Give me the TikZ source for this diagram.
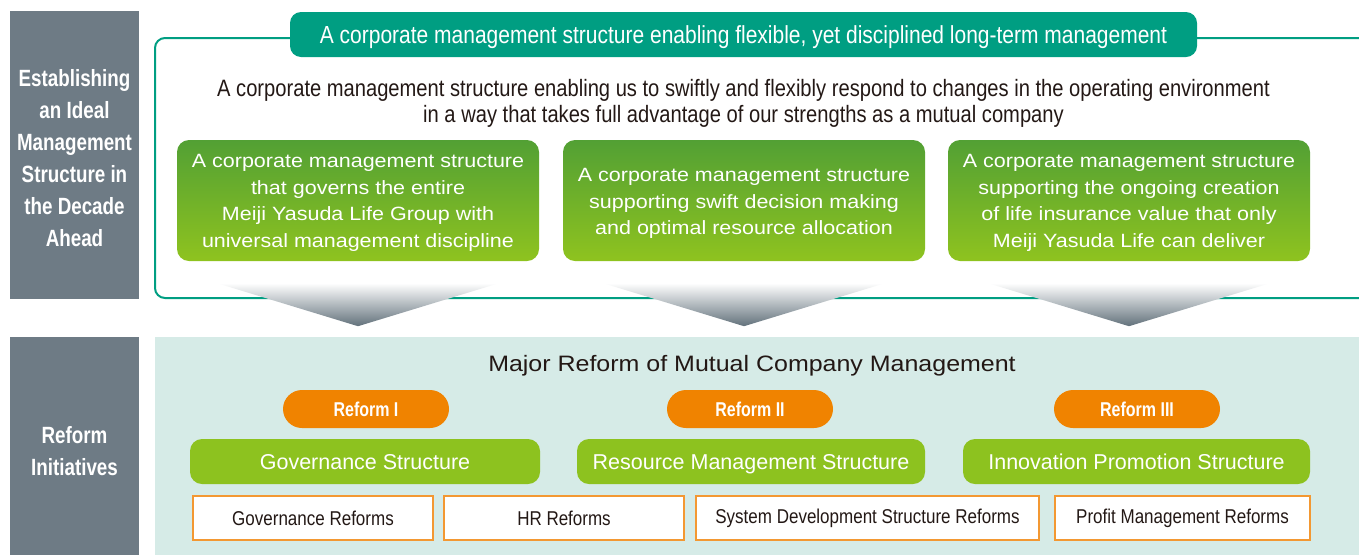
\documentclass[tikz,border=0pt]{standalone}
\usepackage{fontspec}
\setmainfont{Liberation Sans}
\newfontfamily\narrowsans[FakeStretch=0.85]{Liberation Sans}
\newfontfamily\narrowbold[FakeStretch=0.8]{Liberation Sans Bold}
\newfontfamily\widesans[FakeStretch=1.12]{Liberation Sans}
\usetikzlibrary{positioning,calc}

\definecolor{sidegray}{RGB}{110,123,133}
\definecolor{mainteal}{RGB}{0,158,130}
\definecolor{leafdark}{RGB}{82,160,52}
\definecolor{leaflight}{RGB}{143,195,31}
\definecolor{leafgreen}{RGB}{141,194,31}
\definecolor{paleteal}{RGB}{214,235,231}
\definecolor{reformorange}{RGB}{240,131,0}
\definecolor{edgeorange}{RGB}{243,152,50}
\definecolor{inkblack}{RGB}{35,24,21}
\definecolor{arrowgray}{RGB}{98,113,123}

\begin{document}
\begin{tikzpicture}[x=1pt, y=-1pt,
    sidebox/.style={fill=sidegray, inner sep=0pt, minimum width=129pt},
    sidetext/.style={text=white, align=center, font=\narrowbold\fontsize{23.5}{32}\selectfont},
    titlepill/.style={fill=mainteal, text=white, rounded corners=11pt, text depth=0pt,
      minimum width=907pt, minimum height=45pt, font=\narrowsans\fontsize{24.7}{28}\selectfont},
    aimbox/.style={top color=leafdark, bottom color=leaflight, rounded corners=12pt,
      minimum width=362pt, minimum height=121pt},
    aimtext/.style={text=white, align=center, font=\widesans\fontsize{19.2}{26.5}\selectfont},
    reformpill/.style={fill=reformorange, text=white, rounded corners=19pt, text depth=0pt,
      minimum width=166pt, minimum height=38pt, font=\narrowbold\fontsize{20}{22}\selectfont},
    structbar/.style={fill=leafgreen, text=white, rounded corners=12pt, text depth=0pt,
      minimum height=45pt, font=\fontsize{21.5}{24}\selectfont},
    itembox/.style={fill=white, draw=edgeorange, line width=1.5pt, text=inkblack,
      minimum height=44pt, font=\narrowsans\fontsize{20}{24}\selectfont}]
  \useasboundingbox (0,0) rectangle (1359,555);

  % side labels
  \node (sideup) [sidebox, minimum height=288pt] at (74.5,155) {};
  \node (sideuptext) [sidetext] at ([yshift=-3pt]sideup.center)
    {Establishing\\an Ideal\\Management\\Structure in\\the Decade\\Ahead};
  \node (sidelow) [sidebox, minimum height=218pt] at (74.5,446) {};
  \node (sidelowtext) [sidetext] at ([yshift=-5.5pt]sidelow.center) {Reform\\Initiatives};

  % upper frame, open to the right
  \draw[mainteal, line width=2pt, rounded corners=10pt]
    (1359,38) -- (155,38) -- (155,298) -- (1359,298);
  \node (title) [titlepill] at (743.5,34.5)
    {A corporate management structure enabling flexible, yet disciplined long-term management};
  \node (lead) [align=center, text=inkblack, text depth=-1pt,
      font=\narrowsans\fontsize{23.7}{26}\selectfont] at (743.5,101)
    {A corporate management structure enabling us to swiftly and flexibly respond to changes in the operating environment\\
     in a way that takes full advantage of our strengths as a mutual company};

  \node (aim1) [aimbox] at (358,200.5) {};
  \node (aim2) [aimbox] at (744,200.5) {};
  \node (aim3) [aimbox] at (1129,200.5) {};
  \node (aim1text) [aimtext] at ([yshift=-2.5pt]aim1.center)
    {A corporate management structure\\that governs the entire\\Meiji Yasuda Life Group with\\universal management discipline};
  \node (aim2text) [aimtext] at ([yshift=-3pt]aim2.center)
    {A corporate management structure\\supporting swift decision making\\and optimal resource allocation};
  \node (aim3text) [aimtext] at ([yshift=-2.5pt]aim3.center)
    {A corporate management structure\\supporting the ongoing creation\\of life insurance value that only\\Meiji Yasuda Life can deliver};

  % arrows down to the reforms
  \foreach \a in {aim1,aim2,aim3}
    \shade[top color=white, bottom color=arrowgray]
      ($(\a.south)+(-141,22)$) -- ($(\a.south)+(141,22)$) -- ($(\a.south)+(0,65)$) -- cycle;

  % lower panel
  \fill[paleteal] (155,337) rectangle (1359,555);
  \node (major) [text=inkblack, text depth=0pt, font=\widesans\fontsize{22.3}{26}\selectfont] at (752,363)
    {Major Reform of Mutual Company Management};

  \node (ref1) [reformpill] at (366,409) {Reform I};
  \node (ref2) [reformpill] at (750,409) {Reform II};
  \node (ref3) [reformpill] at (1137,409) {Reform III};

  \node (gov) [structbar, minimum width=350pt] at (365,461.5) {Governance Structure};
  \node (res) [structbar, minimum width=348pt] at (751,461.5) {Resource Management Structure};
  \node (inn) [structbar, minimum width=347pt] at (1136.5,461.5) {Innovation Promotion Structure};

  \node (govref) [itembox, minimum width=240pt] at (313,518) {Governance Reforms};
  \node (hrref) [itembox, minimum width=240pt] at (564,518) {HR Reforms};
  \node (sysref) [itembox, minimum width=343pt] at (867.5,518) {System Development Structure Reforms};
  \node (proref) [itembox, minimum width=255pt] at (1182.5,518) {Profit Management Reforms};
\end{tikzpicture}
\end{document}
